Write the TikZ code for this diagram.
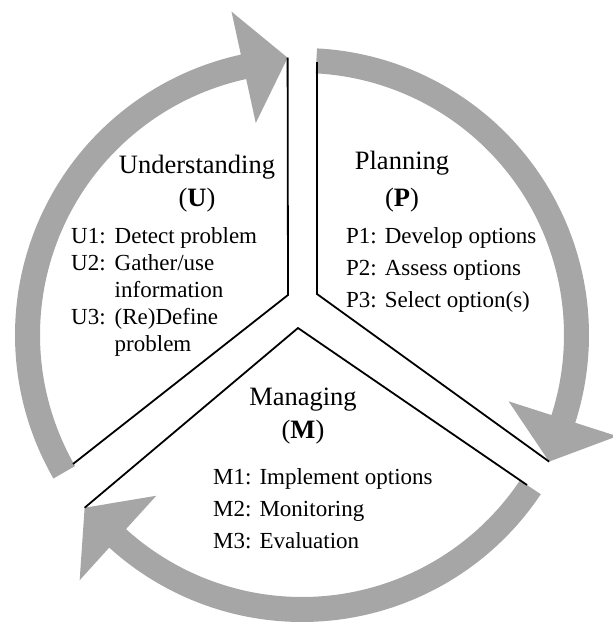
\documentclass[tikz,border=0pt]{standalone}
\usepackage{fontspec}
\setmainfont{Liberation Serif}
\usetikzlibrary{calc}
\begin{document}
\begin{tikzpicture}[x=1pt,y=-1pt]
        \tikzstyle{cyclearrow}=[fill=black!35]
        \tikzstyle{wedge}=[draw=black, line width=1.8pt, line join=miter]
        \tikzstyle{heading}=[inner sep=0pt, anchor=base, font=\fontsize{26.5}{33}\selectfont]
        \tikzstyle{steps}=[inner sep=0pt, anchor=base west]
       \useasboundingbox (0,0) rectangle (613,625);

       % three arrows round the cycle (angles clockwise from east)
       \begin{scope}[shift={(302,335)}]
         \foreach \a/\b in {-210/-102.3, -87/17.8, 33.7/132.2}
           \fill[cyclearrow] (\a:287) arc[start angle=\a, end angle=\b, radius=287]
             -- (\b:331) -- ($(\b:274)+(\b+90:45)$) -- (\b:217)
             -- (\b:262) arc[start angle=\b, end angle=\a, radius=262] -- cycle;
         \coordinate (utip) at ($(-102.3:274)+(-12.3:45)$);
         \coordinate (ptip) at ($(17.8:274)+(107.8:45)$);
         \coordinate (mtip) at ($(132.2:274)+(222.2:45)$);
       \end{scope}

       % the three wedges
       \coordinate (uapex) at (288,295);
       \coordinate (uend) at (73,464);
       \coordinate (pstart) at (317,62);
       \coordinate (papex) at (317,294);
       \coordinate (mapex) at (298,328);
       \coordinate (mend) at (527,485);
       \draw[wedge] (utip) -- (uapex) -- (uend);
       \draw[wedge] (pstart) -- (papex) -- (ptip);
       \draw[wedge] (mtip) -- (mapex) -- (mend);

       \node[heading] (utitle) at (197,173) {\begin{tabular}[t]{@{}c@{}}Understanding\\(\textbf{U})\end{tabular}};
       \node[heading] (ptitle) at (402,169) {\begin{tabular}[t]{@{}c@{}}Planning\\[4pt](\textbf{P})\end{tabular}};
       \node[heading] (mtitle) at (303,405) {\begin{tabular}[t]{@{}c@{}}Managing\\(\textbf{M})\end{tabular}};

       \node[steps, font=\fontsize{23}{27}\selectfont] (usteps) at (71,243)
         {\begin{tabular}[t]{@{}l@{\hspace{9pt}}l@{}}U1: & Detect problem\\ U2: & Gather/use\\ & information\\ U3: & (Re)Define\\ & problem\end{tabular}};
       \node[steps, font=\fontsize{23}{32}\selectfont] (psteps) at (346,243)
         {\begin{tabular}[t]{@{}l@{\hspace{8pt}}l@{}}P1: & Develop options\\ P2: & Assess options\\ P3: & Select option(s)\end{tabular}};
       \node[steps, font=\fontsize{23}{32}\selectfont] (msteps) at (213,484)
         {\begin{tabular}[t]{@{}l@{\hspace{8pt}}l@{}}M1: & Implement options\\ M2: & Monitoring\\ M3: & Evaluation\end{tabular}};
\end{tikzpicture}
\end{document}
